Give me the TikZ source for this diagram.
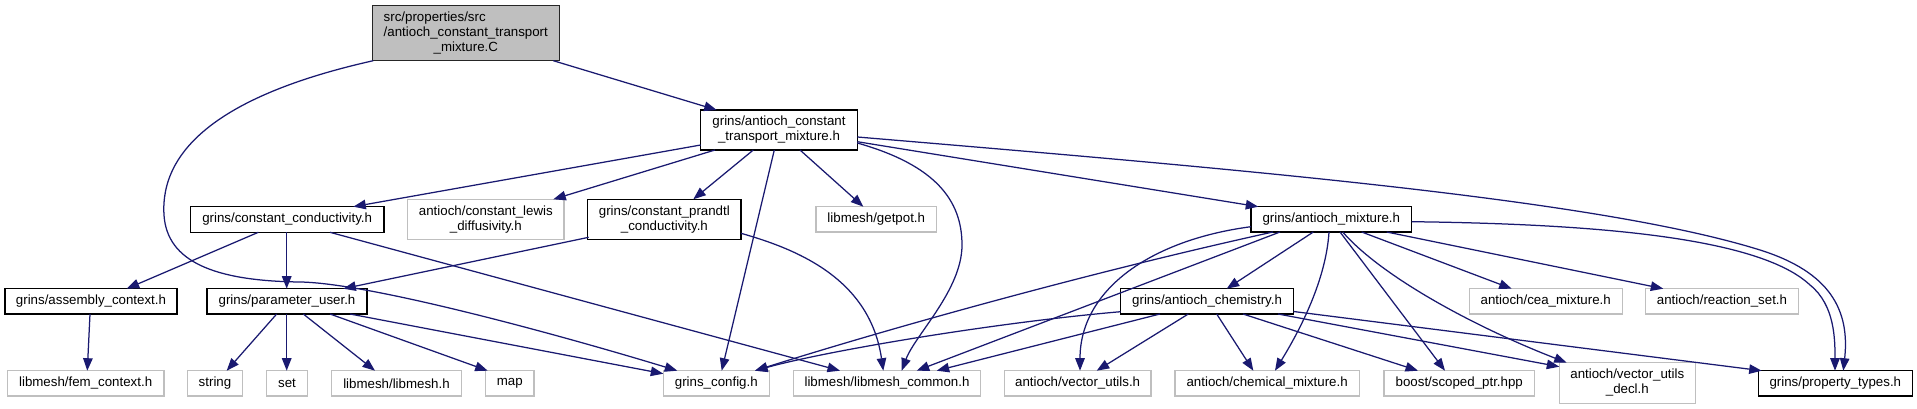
\documentclass[tikz,border=0pt]{standalone}
\usepackage{fontspec}
\setmainfont{Liberation Sans}
\usetikzlibrary{arrows.meta}
\definecolor{edgeblue}{HTML}{191970}
\definecolor{extgray}{HTML}{BFBFBF}
\definecolor{rootgray}{HTML}{BFBFBF}
\tikzset{
  base/.style={draw, inner sep=0pt, outer sep=0pt, align=center, text=black,
    font=\fontsize{13.3pt}{15pt}\selectfont},
  doc/.style={base, draw=black, line width=1.5pt, fill=white},
  ext/.style={base, draw=extgray, line width=1.3pt, fill=white},
  rootnode/.style={base, draw=black!85, line width=1.5pt, fill=rootgray},
  edge/.style={draw=edgeblue, line width=1.25pt, -{Triangle[length=12.5pt,width=9.5pt]}},
}
\begin{document}
\begin{tikzpicture}[x=1pt,y=-1pt]
\useasboundingbox[fill=white] (0,0) rectangle (1917,409);
% row 0
\node[rootnode, minimum width=187pt, minimum height=55pt] (root) at (465.8,33.2)
  {\rlap{src/properties/src}\phantom{/antioch\_constant\_transport}\\/antioch\_constant\_transport\\\_mixture.C};
% row 1
\node[doc, minimum width=156.6pt, minimum height=40pt] (acth) at (779,130) {grins/antioch\_constant\\\_transport\_mixture.h};
% row 2
\node[doc, minimum width=193.7pt, minimum height=25.6pt] (cc) at (287.15,219.5) {grins/constant\_conductivity.h};
\node[ext, minimum width=156.3pt, minimum height=40pt] (lewis) at (485.85,219.3) {antioch/constant\_lewis\\\_diffusivity.h};
\node[doc, minimum width=153.3pt, minimum height=40pt] (prandtl) at (664.35,219.3) {grins/constant\_prandtl\\\_conductivity.h};
\node[ext, minimum width=120.5pt, minimum height=25.3pt] (getpot) at (876.25,219.35) {libmesh/getpot.h};
\node[doc, minimum width=160.6pt, minimum height=25.3pt] (am) at (1331.3,219.35) {grins/antioch\_mixture.h};
% row 3
\node[doc, minimum width=172pt, minimum height=25.3pt] (ac) at (91,301.35) {grins/assembly\_context.h};
\node[doc, minimum width=160pt, minimum height=25.3pt] (pu) at (287,301.35) {grins/parameter\_user.h};
\node[doc, minimum width=172.8pt, minimum height=25.3pt] (chem) at (1207.1,301.35) {grins/antioch\_chemistry.h};
\node[ext, minimum width=152.9pt, minimum height=25.3pt] (cea) at (1545.75,301.35) {antioch/cea\_mixture.h};
\node[ext, minimum width=152.6pt, minimum height=25.3pt] (rset) at (1722,301.35) {antioch/reaction\_set.h};
% row 4
\node[ext, minimum width=156.7pt, minimum height=25.3pt] (fem) at (85.65,383.35) {libmesh/fem\_context.h};
\node[ext, minimum width=54.6pt, minimum height=25.3pt] (str) at (215,383.35) {string};
\node[ext, minimum width=40.6pt, minimum height=25.3pt] (set) at (287,383.35) {set};
\node[ext, minimum width=129.6pt, minimum height=25.3pt] (lm) at (396.5,383.35) {libmesh/libmesh.h};
\node[ext, minimum width=48.3pt, minimum height=25.3pt] (map) at (509.85,383.35) {map};
\node[ext, minimum width=106pt, minimum height=25.3pt] (cfg) at (716.3,383.35) {grins\_config.h};
\node[ext, minimum width=187.4pt, minimum height=25.3pt] (lmc) at (887,383.35) {libmesh/libmesh\_common.h};
\node[ext, minimum width=146.7pt, minimum height=25.3pt] (vu) at (1077.65,383.35) {antioch/vector\_utils.h};
\node[ext, minimum width=184.3pt, minimum height=25.3pt] (cm) at (1267.15,383.35) {antioch/chemical\_mixture.h};
\node[ext, minimum width=150.5pt, minimum height=25.3pt] (sp) at (1459.25,383.35) {boost/scoped\_ptr.hpp};
\node[ext, minimum width=136pt, minimum height=40.6pt] (vud) at (1627.3,383) {antioch/vector\_utils\\\_decl.h};
\node[doc, minimum width=154pt, minimum height=25.3pt] (pt) at (1835.3,383.35) {grins/property\_types.h};

% root edges
\draw[edge] ([shift={(181,0)}]root.south west) -- ([shift={(16,0)}]acth.north west);
\draw[edge] ([shift={(1,0)}]root.south west) .. controls (220,95) and (160,150) .. (164,215)
  .. controls (167,262) and (215,281) .. (300,282)
  .. controls (370,283) and (560,335) .. ([shift={(14,0)}]cfg.north west);
% acth edges
\draw[edge] ([shift={(0,35)}]acth.north west) -- ([shift={(163,0)}]cc.north west);
\draw[edge] ([shift={(14.3,0)}]acth.south west) -- ([shift={(145.6,0)}]lewis.north west);
\draw[edge] ([shift={(52.6,0)}]acth.south west) -- ([shift={(105.6,0)}]prandtl.north west);
\draw[edge] ([shift={(73.6,0)}]acth.south west) -- ([shift={(58.4,0)}]cfg.north west);
\draw[edge] ([shift={(99.3,0)}]acth.south west) -- ([shift={(47.3,0)}]getpot.north west);
\draw[edge] ([shift={(0,33)}]acth.north east) .. controls (935,165) and (962,200) .. (962,245)
  .. controls (962,290) and (915,335) .. ([shift={(108.4,0)}]lmc.north west);
\draw[edge] ([shift={(0,31.7)}]acth.north east) -- ([shift={(7.3,0)}]am.north west);
\draw[edge] ([shift={(0,27)}]acth.north east) .. controls (1250,170) and (1600,200) .. (1760,250)
  .. controls (1830,272) and (1850,310) .. ([shift={(85,0)}]pt.north west);
% cc edges
\draw[edge] ([shift={(68,0)}]cc.south west) -- ([shift={(121.7,0)}]ac.north west);
\draw[edge] ([shift={(96.4,0)}]cc.south west) -- ([shift={(79.7,0)}]pu.north west);
\draw[edge] ([shift={(139.7,0)}]cc.south west) -- ([shift={(46.7,0)}]lmc.north west);
% prandtl edges
\draw[edge] ([shift={(1,-2)}]prandtl.south west) -- ([shift={(136.3,0)}]pu.north west);
\draw[edge] ([shift={(0,34)}]prandtl.north east) .. controls (800,250) and (870,280) .. ([shift={(90,0)}]lmc.north west);
% assembly context
\draw[edge] ([shift={(85,0)}]ac.south west) -- ([shift={(80,0)}]fem.north west);
% parameter user
\draw[edge] ([shift={(69.7,0)}]pu.south west) -- ([shift={(39,0)}]str.north west);
\draw[edge] ([shift={(79.7,0)}]pu.south west) -- ([shift={(20,0)}]set.north west);
\draw[edge] ([shift={(96.3,0)}]pu.south west) -- ([shift={(43.3,0)}]lm.north west);
\draw[edge] ([shift={(123,0)}]pu.south west) -- ([shift={(2,0)}]map.north west);
\draw[edge] ([shift={(143,0)}]pu.south west) -- ([shift={(0,3)}]cfg.north west);
% antioch mixture
\draw[edge] ([shift={(62.3,0)}]am.south west) -- ([shift={(106,0)}]chem.north west);
\draw[edge] ([shift={(22,0)}]am.south west) .. controls (1100,270) and (900,325) .. ([shift={(91.7,0)}]cfg.north west);
\draw[edge] ([shift={(29,0)}]am.south west) -- ([shift={(123.4,0)}]lmc.north west);
\draw[edge] ([shift={(0,20)}]am.north west) .. controls (1150,240) and (1080,290) .. ([shift={(75.7,0)}]vu.north west);
\draw[edge] ([shift={(78,0)}]am.south west) .. controls (1326,280) and (1300,330) .. ([shift={(100,0)}]cm.north west);
\draw[edge] ([shift={(89,0)}]am.south west) -- ([shift={(61,0)}]sp.north west);
\draw[edge] ([shift={(91.7,0)}]am.south west) .. controls (1380,275) and (1470,325) .. ([shift={(7.4,0)}]vud.north west);
\draw[edge] ([shift={(110.7,0)}]am.south west) -- ([shift={(42.4,0)}]cea.north west);
\draw[edge] ([shift={(135.7,0)}]am.south west) -- ([shift={(17.6,0)}]rset.north west);
\draw[edge] ([shift={(0,15)}]am.north east) .. controls (1600,224) and (1760,238) .. (1810,285)
  .. controls (1835,305) and (1835,340) .. ([shift={(76.7,0)}]pt.north west);
% antioch chemistry
\draw[edge] ([shift={(0,23)}]chem.north west) .. controls (1000,322) and (830,350) .. ([shift={(91.7,0)}]cfg.north west);
\draw[edge] ([shift={(39.3,0)}]chem.south west) -- ([shift={(143.4,0)}]lmc.north west);
\draw[edge] ([shift={(67.6,0)}]chem.south west) -- ([shift={(92.4,0)}]vu.north west);
\draw[edge] ([shift={(96,0)}]chem.south west) -- ([shift={(78.3,0)}]cm.north west);
\draw[edge] ([shift={(122.3,0)}]chem.south west) -- ([shift={(34,0)}]sp.north west);
\draw[edge] ([shift={(157.3,0)}]chem.south west) -- ([shift={(0,4)}]vud.north west);
\draw[edge] ([shift={(0,-2.5)}]chem.south east) -- ([shift={(3.4,0)}]pt.north west);
\end{tikzpicture}
\end{document}
